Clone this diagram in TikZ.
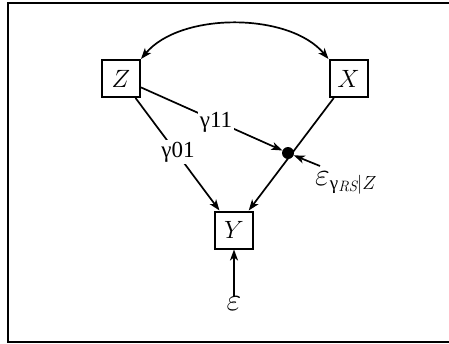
\RequirePackage{fix-cm}
\documentclass[tikz,border=0pt]{standalone}
\usepackage{amsmath}
\usepackage{fontspec}
\newfontfamily\gfont{Liberation Serif}
\usetikzlibrary{arrows.meta}
\begin{document}
\begin{tikzpicture}[x=1pt,y=-1pt,
  var/.style={draw, line width=2pt, minimum width=38pt, minimum height=37pt, inner sep=0pt, font=\fontsize{25}{30}\selectfont},
  tip/.style={-{Stealth[length=11pt,width=8pt,inset=3pt]}},
  conn/.style={line width=1.7pt, tip},
  lab/.style={fill=white, inner sep=1.5pt, font=\fontsize{23}{26}\selectfont\gfont},
  mlab/.style={inner sep=0pt, font=\fontsize{32}{38}\selectfont}]
\useasboundingbox (0,0) rectangle (449,343);
\draw[line width=1.6pt] (460,3) -- (8,3) -- (8,342) -- (460,342);
\node[var] (Z) at (121,78.5) {$Z$};
\node[var] (X) at (348.5,78.5) {$X$};
\node[var] (Y) at (234,230) {$Y$};
\node[circle, fill, inner sep=0pt, minimum size=12pt] (D) at (288,153) {};
\node[mlab] (e) at (234,304) {$\varepsilon$};
\node[anchor=base west, inner sep=0pt] (eg) at (315,185) {\fontsize{32}{36}\selectfont$\varepsilon$\raisebox{-4pt}{\fontsize{19}{22}\selectfont\gfont γ\raisebox{-2pt}{\fontsize{15}{17}\selectfont$\mathit{RS}$}\fontsize{19}{22}\selectfont$|Z$}};
\coordinate (egs) at (320,166);
\draw[line width=1.7pt, {Stealth[length=11pt,width=8pt,inset=3pt]}-{Stealth[length=11pt,width=8pt,inset=3pt]}]
  (Z.north east) .. controls (180,12) and (289,12) .. (X.north west);
\draw[conn] (Z) -- (Y);
\draw[conn] (Z) -- (D);
\draw[conn] (X) -- (Y);
\draw[conn] (egs) -- (D);
\draw[conn] (e) -- (Y);
\node[lab] (g11) at (216,122) {γ11};
\node[lab] (g01) at (178,152) {γ01};
\end{tikzpicture}
\end{document}
